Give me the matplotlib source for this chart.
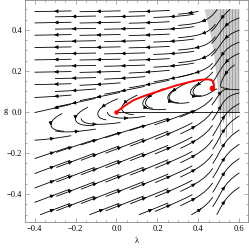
import numpy as np
import matplotlib.pyplot as plt
from matplotlib.ticker import MultipleLocator, FuncFormatter

# red trajectory
traj_lam = [0.0, 0.04, 0.082, 0.14, 0.196, 0.25, 0.294, 0.345, 0.391, 0.425, 0.448, 0.465, 0.473, 0.476, 0.472, 0.464]
traj_g = [0.0, 0.03, 0.057, 0.08, 0.098, 0.116, 0.130, 0.143, 0.154, 0.158, 0.159, 0.155, 0.146, 0.130, 0.122, 0.119]

# invariant line at g = 0
line_lam = [0.0, 0.6]
line_g = [0.0, 0.0]

# grey band of crowded streamlines near lambda = 0.5
band_lam = [0.43, 0.6, 0.6, 0.5, 0.495, 0.47]
band_g = [0.5, 0.5, 0.0, 0.0, 0.12, 0.33]
band_lines = [0.505, 0.52, 0.535, 0.55, 0.565, 0.58, 0.595]
band_low = [-0.15, -0.05, -0.12, -0.02, -0.1, -0.03, 0.0]

# seed rows / columns for the short stream segments
seed_lam = [-0.32, -0.08, 0.16, 0.40]
seed_g = [-0.48, -0.445, -0.41, -0.375, -0.34, -0.305, -0.27, -0.235, -0.20,
          -0.165, -0.13, -0.095, -0.06, -0.03, 0.015, 0.045, 0.075, 0.105,
          0.135, 0.165, 0.195, 0.225, 0.255, 0.285, 0.315, 0.345, 0.375,
          0.405, 0.435, 0.465, 0.49]


def field(lam, g):
    c = 0.012 + 0.23 * lam
    u = c - g
    a = np.where(u > 0, 0.37, 0.015)
    w = 0.003 / ((lam - 0.5) ** 2 + 0.002)
    v = a * u - 0.025 * np.exp(-(u / 0.12) ** 2) + w * (0.13 - g)
    return u, v


lam = np.linspace(-0.4, 0.6, 200)
gg = np.linspace(-0.5, 0.5, 200)
L, G = np.meshgrid(lam, gg)
U, V = field(L, G)

seeds = []
for i, y in enumerate(seed_g):
    shift = 0.12 * (i % 2)
    for x in seed_lam:
        if -0.4 < x + shift < 0.6:
            seeds.append([x + shift, y])
seeds = np.array(seeds)

fig = plt.figure(figsize=(2.49, 2.48), dpi=100)
ax = fig.add_axes([0.1, 0.105, 0.896, 0.895])

ax.fill(band_lam, band_g, color='#cccccc', lw=0, zorder=1)
for x, lo in zip(band_lines, band_low):
    ax.plot([x, x], [lo, 0.5], color='#909090', lw=0.5, zorder=1)

ax.streamplot(L, G, U, V, start_points=seeds, color='black', linewidth=0.6,
              arrowsize=0.5, minlength=0.01, maxlength=0.21,
              broken_streamlines=False, integration_direction='both', zorder=2)
ax.plot(line_lam, line_g, color='black', lw=0.6, zorder=2)

ax.plot(traj_lam, traj_g, color='red', lw=1.4, zorder=3)
ax.plot(traj_lam[0], traj_g[0], 'o', color='red', ms=2.2, zorder=3)
ax.plot(traj_lam[-1], traj_g[-1], 'o', color='red', ms=3, zorder=3)

ax.set_xlim(-0.447, 0.642)
ax.set_ylim(-0.535, 0.545)

fmt = FuncFormatter(lambda v, p: f'{v:.1f}'.replace('-', '\u2212'))
ax.xaxis.set_major_locator(MultipleLocator(0.2))
ax.yaxis.set_major_locator(MultipleLocator(0.2))
ax.xaxis.set_minor_locator(MultipleLocator(0.05))
ax.yaxis.set_minor_locator(MultipleLocator(0.05))
ax.xaxis.set_major_formatter(fmt)
ax.yaxis.set_major_formatter(fmt)
ax.tick_params(which='both', direction='in', top=True, right=True,
               color='#888888', width=0.5, labelsize=6, pad=2)
ax.tick_params(which='major', length=3)
ax.tick_params(which='minor', length=1.5)
for lab in ax.get_xticklabels() + ax.get_yticklabels():
    lab.set_fontfamily('Liberation Serif')
for s in ax.spines.values():
    s.set_color('#888888')
    s.set_linewidth(0.6)

ax.set_xlabel('\u03bb', fontfamily='Liberation Serif', fontsize=6, labelpad=3)
ax.set_ylabel('g', fontfamily='Liberation Serif', fontsize=6, rotation=0,
              va='center', ha='center')
ax.yaxis.set_label_coords(-0.085, 0.5)

fig.savefig('out.png', dpi=100)
